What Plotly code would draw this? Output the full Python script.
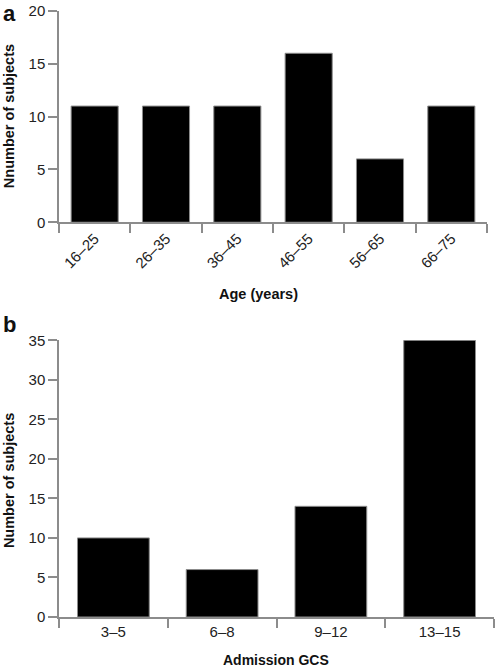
import plotly.graph_objects as go

age_groups = ["16–25", "26–35", "36–45", "46–55", "56–65", "66–75"]
age_counts = [11, 11, 11, 16, 6, 11]
gcs_groups = ["3–5", "6–8", "9–12", "13–15"]
gcs_counts = [10, 6, 14, 35]

W, H = 496, 669
ml, mr, mt, mb = 59, 2, 6, 52
pw, ph = W - ml - mr, H - mt - mb

def px_x(x):
    return (x - ml) / pw

def px_y(y):
    return (H - mb - y) / ph

FONT = "Liberation Sans, Arial, sans-serif"
GREY = "#8c8c8c"

fig = go.Figure()
fig.add_trace(go.Bar(x=age_groups, y=age_counts, xaxis="x", yaxis="y",
                     marker=dict(color="black", line=dict(color=GREY, width=1)),
                     width=0.66, showlegend=False))
fig.add_trace(go.Bar(x=gcs_groups, y=gcs_counts, xaxis="x2", yaxis="y2",
                     marker=dict(color="black", line=dict(color=GREY, width=1)),
                     width=0.66, showlegend=False))

axis_common = dict(showgrid=False, zeroline=False, showline=True, linecolor=GREY,
                   linewidth=1.5, ticks="outside", ticklen=9, tickcolor=GREY,
                   tickwidth=1.5, tickfont=dict(family=FONT, size=15, color="#222"))

fig.update_layout(
    width=W, height=H,
    margin=dict(l=ml, r=mr, t=mt, b=mb),
    paper_bgcolor="white", plot_bgcolor="white",
    font=dict(family=FONT, color="#222"),
    xaxis=dict(domain=[0, px_x(487)], anchor="y", type="category",
               tickson="boundaries", tickangle=-45, **axis_common),
    yaxis=dict(domain=[px_y(219), 1], anchor="x", range=[0, 20], dtick=5,
               **axis_common),
    xaxis2=dict(domain=[0, 1], anchor="y2", type="category",
                tickson="boundaries", tickangle=0, **axis_common),
    yaxis2=dict(domain=[0, px_y(338)], anchor="x2", range=[0, 35], dtick=5,
                **axis_common),
    bargap=0.34,
)

ann = [
    dict(text="<b>a</b>", x=px_x(9), y=px_y(9), size=22, ya="middle"),
    dict(text="<b>b</b>", x=px_x(9), y=px_y(322), size=22, ya="middle"),
    dict(text="<b>Age (years)</b>", x=px_x(258), y=px_y(291), size=14.5, ya="middle"),
    dict(text="<b>Admission GCS</b>", x=px_x(276), y=px_y(669), size=14, ya="bottom"),
    dict(text="<b>Nnumber of subjects</b>", x=px_x(9), y=px_y(112), size=14.5, angle=-90, ya="middle"),
    dict(text="<b>Number of subjects</b>", x=px_x(9), y=px_y(480), size=14.5, angle=-90, ya="middle"),
]
for a in ann:
    fig.add_annotation(text=a["text"], x=a["x"], y=a["y"], xref="paper", yref="paper",
                       showarrow=False, xanchor="center", yanchor=a["ya"],
                       textangle=a.get("angle", 0), borderpad=0,
                       font=dict(family=FONT, size=a["size"], color="#111"))

fig.write_html("out.html", config={"displayModeBar": False},
               post_script="document.body.style.margin='0';document.body.style.padding='0';document.body.style.overflow='hidden';")
